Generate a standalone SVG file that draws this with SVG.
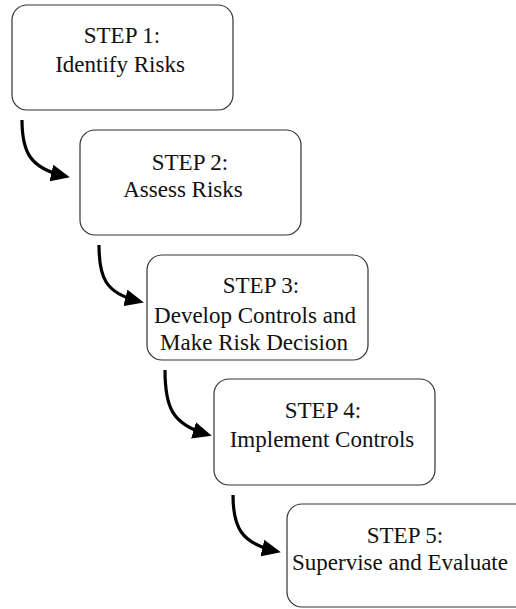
<svg xmlns="http://www.w3.org/2000/svg" width="516" height="609" viewBox="0 0 516 609">
<style>
.box{fill:#fff;stroke:#333;stroke-width:1.2}
.t{font-family:'Liberation Serif','DejaVu Serif',serif;font-size:23px;fill:#111;text-anchor:middle}
.arr{fill:none;stroke:#000;stroke-width:3.2;marker-end:url(#ah)}
</style>
<defs>
<marker id="ah" markerUnits="userSpaceOnUse" markerWidth="19" markerHeight="17" refX="13" refY="8.5" orient="auto" viewBox="0 0 19 17">
<path d="M0,0 L19,8.5 L0,17 Z" fill="#000"/>
</marker>
</defs>
<rect width="516" height="609" fill="#fff"/>
<g id="connectors">
<path class="arr" d="M22,120 C22,152 30,168 64,176"/>
<path class="arr" d="M99,245 C99,277 105,293 138,301"/>
<path class="arr" d="M165,370 C165,407 172,424 206,434"/>
<path class="arr" d="M233,495 C233,527 241,543 275,551"/>
</g>
<g id="step1">
<rect class="box" x="12" y="5" width="221" height="105" rx="15"/>
<text class="t" x="122" y="43">STEP 1:</text>
<text class="t" x="120" y="72">Identify Risks</text>
</g>
<g id="step2">
<rect class="box" x="80" y="130" width="221" height="105" rx="15"/>
<text class="t" x="190" y="170">STEP 2:</text>
<text class="t" x="183" y="197">Assess Risks</text>
</g>
<g id="step3">
<rect class="box" x="147" y="255" width="221" height="105" rx="15"/>
<text class="t" x="261" y="293">STEP 3:</text>
<text class="t" x="255" y="323">Develop Controls and</text>
<text class="t" x="254" y="350">Make Risk Decision</text>
</g>
<g id="step4">
<rect class="box" x="214" y="379" width="221" height="106" rx="15"/>
<text class="t" x="323" y="418">STEP 4:</text>
<text class="t" x="322" y="447">Implement Controls</text>
</g>
<g id="step5">
<rect class="box" x="287" y="504" width="250" height="103" rx="15"/>
<text class="t" x="405" y="543">STEP 5:</text>
<text class="t" x="400" y="570">Supervise and Evaluate</text>
</g>
</svg>
